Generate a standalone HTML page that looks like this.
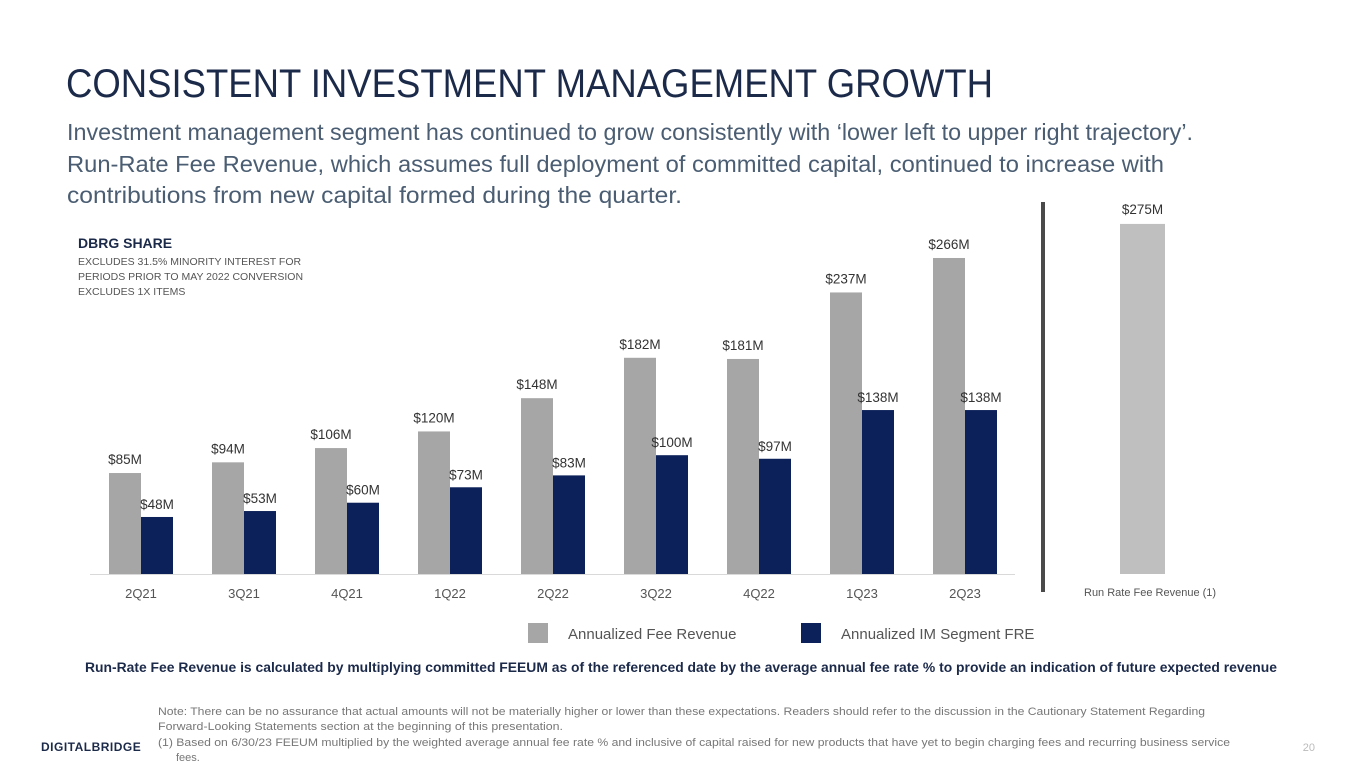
<!DOCTYPE html>
<html><head><meta charset="utf-8">
<style>
html,body{margin:0;padding:0;background:#fff;}
svg{display:block;font-family:"Liberation Sans",sans-serif;}
</style></head>
<body>
<svg id="chart" width="1365" height="768" viewBox="0 0 1365 768">
<text x="66" y="97" font-size="40" fill="#1c2a4a" textLength="927" lengthAdjust="spacingAndGlyphs">CONSISTENT INVESTMENT MANAGEMENT GROWTH</text>
<g font-size="23.5" fill="#4a5d72">
<text x="67" y="140" textLength="1126" lengthAdjust="spacingAndGlyphs">Investment management segment has continued to grow consistently with ‘lower left to upper right trajectory’.</text>
<text x="67" y="172" textLength="1097" lengthAdjust="spacingAndGlyphs">Run-Rate Fee Revenue, which assumes full deployment of committed capital, continued to increase with</text>
<text x="67" y="203" textLength="615" lengthAdjust="spacingAndGlyphs">contributions from new capital formed during the quarter.</text>
</g>
<text x="78" y="248" font-size="14" font-weight="bold" fill="#1c2a4a">DBRG SHARE</text>
<g font-size="10.5" fill="#555">
<text x="78" y="265">EXCLUDES 31.5% MINORITY INTEREST FOR</text>
<text x="78" y="280">PERIODS PRIOR TO MAY 2022 CONVERSION</text>
<text x="78" y="295">EXCLUDES 1X ITEMS</text>
</g>
<line x1="90" y1="574.5" x2="1015" y2="574.5" stroke="#d9d9d9" stroke-width="1"/>
<g id="bars"></g>
<rect x="1041" y="202" width="4" height="390" fill="#4a4a4a"/>
<g id="runrate"></g>
<rect x="528" y="623" width="20" height="20" fill="#a6a6a6"/>
<text x="568" y="639" font-size="15" fill="#555">Annualized Fee Revenue</text>
<rect x="801" y="623" width="20" height="20" fill="#0c2159"/>
<text x="841" y="639" font-size="15" fill="#555">Annualized IM Segment FRE</text>
<text x="85" y="672" font-size="13.5" font-weight="bold" fill="#1c2a4a" textLength="1192" lengthAdjust="spacingAndGlyphs">Run-Rate Fee Revenue is calculated by multiplying committed FEEUM as of the referenced date by the average annual fee rate % to provide an indication of future expected revenue</text>
<g font-size="11" fill="#777">
<text x="158" y="715" textLength="1047" lengthAdjust="spacingAndGlyphs">Note: There can be no assurance that actual amounts will not be materially higher or lower than these expectations.  Readers should refer to the discussion in the Cautionary Statement Regarding</text>
<text x="158" y="730" textLength="405" lengthAdjust="spacingAndGlyphs">Forward-Looking Statements section at the beginning of this presentation.</text>
<text x="158" y="746" textLength="1072" lengthAdjust="spacingAndGlyphs">(1) Based on 6/30/23 FEEUM multiplied by the weighted average annual fee rate % and inclusive of capital raised for new products that have yet to begin charging fees and recurring business service</text>
<text x="176" y="761">fees.</text>
</g>
<text x="41" y="751" font-size="12" font-weight="bold" fill="#1c2a4a" letter-spacing="0.5">DIGITALBRIDGE</text>
<text x="1315" y="751" font-size="11" fill="#bbb" text-anchor="end">20</text>
</svg>
<script>
const categories = ["2Q21","3Q21","4Q21","1Q22","2Q22","3Q22","4Q22","1Q23","2Q23"];
const feeRevenue = [85,94,106,120,148,182,181,237,266];
const imFre = [48,53,60,73,83,100,97,138,138];
const runRateLabel = ["Run Rate Fee Revenue"];
const runRateValue = [275];

const NS = "http://www.w3.org/2000/svg";
const baseY = 574;
const yScale = v => baseY - v * 1.188;
const xCenter = i => 141 + i * 103;
const barW = 32;
function mk(tag, attrs, parent, txt){
  const el = document.createElementNS(NS, tag);
  for (const k in attrs) el.setAttribute(k, attrs[k]);
  if (txt !== undefined) el.textContent = txt;
  parent.appendChild(el);
  return el;
}
const g = document.getElementById("bars");
categories.forEach((c, i) => {
  const cx = xCenter(i);
  const y1 = yScale(feeRevenue[i]);
  const r1 = mk("rect", {x: cx - barW, y: y1, width: barW, height: baseY - y1, fill: "#a6a6a6"}, g);
  
  
  const t1 = mk("text", {x: cx - barW/2, y: y1 - 9, "font-size": 13.5, fill: "#333", "text-anchor": "middle"}, g, "$" + feeRevenue[i] + "M");
  
  
  const y2 = yScale(imFre[i]);
  const r2 = mk("rect", {x: cx, y: y2, width: barW, height: baseY - y2, fill: "#0c2159"}, g);
  
  
  const t2 = mk("text", {x: cx + barW/2, y: y2 - 8, "font-size": 13.5, fill: "#333", "text-anchor": "middle"}, g, "$" + imFre[i] + "M");
  
  
  const tl = mk("text", {x: cx, y: 598, "font-size": 13, fill: "#555", "text-anchor": "middle"}, g, c);
  
  
});
const rg = document.getElementById("runrate");
const rScale = v => baseY - v * 1.273;
const ry = rScale(runRateValue[0]);
const rb = mk("rect", {x: 1120, y: ry, width: 45, height: baseY - ry, fill: "#bfbfbf"}, rg);


const rt = mk("text", {x: 1142.5, y: ry - 10, "font-size": 13.5, fill: "#333", "text-anchor": "middle"}, rg, "$" + runRateValue[0] + "M");


const rl = mk("text", {x: 1084, y: 596, "font-size": 11, fill: "#555"}, rg, runRateLabel[0] + "  (1)");


</script>
</body></html>
